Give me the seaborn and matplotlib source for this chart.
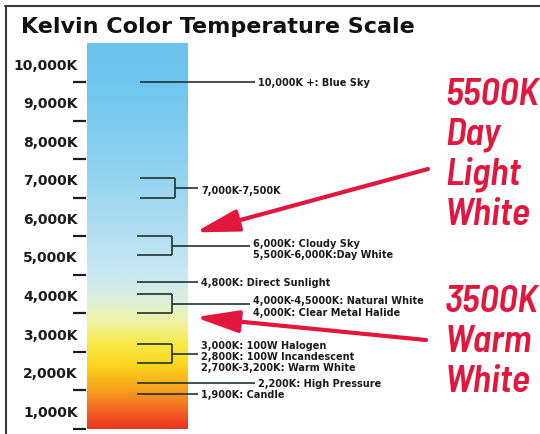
import numpy as np
import matplotlib
matplotlib.use("Agg")
import matplotlib.pyplot as plt
from matplotlib.colors import LinearSegmentedColormap
import seaborn as sns

# ---------------- data ----------------
tick_values = [1000, 2000, 3000, 4000, 5000, 6000, 7000, 8000, 9000, 10000]
tick_labels = ["1,000K", "2,000K", "3,000K", "4,000K", "5,000K",
               "6,000K", "7,000K", "8,000K", "9,000K", "10,000K"]

scale_low = 1000
scale_high = 11000

single_values = [10000, 4800, 2200, 1900]
single_labels = ["10,000K +: Blue Sky", "4,800K: Direct Sunlight",
                 "2,200K: High Pressure", "1,900K: Candle"]

bracket_low = [7000, 5500, 4000, 2700]
bracket_high = [7500, 6000, 4500, 3200]
bracket_labels = [
    ["7,000K-7,500K"],
    ["6,000K: Cloudy Sky", "5,500K-6,000K:Day White"],
    ["4,000K-4,5000K: Natural White", "4,000K: Clear Metal Halide"],
    ["3,000K: 100W Halogen", "2,800K: 100W Incandescent", "2,700K-3,200K: Warm White"],
]

callout_values = [6100, 3900]
callout_text = [["5500K", "Day", "Light", "White"], ["3500K", "Warm", "White"]]

grad_kelvin = [1000, 1500, 2000, 2600, 3200, 3800, 4300, 5000, 6500, 8000, 10000, 11000]
grad_colors = ["#ec3322", "#f26a22", "#f7a11c", "#fbd31b", "#f8ea48", "#eef3a8",
               "#dcefd8", "#c9e8f2", "#a9dbf1", "#8bd0f0", "#6ec6ee", "#6cc4ee"]

# ---------------- style ----------------
sns.set_theme(style="white")
plt.rcParams["font.family"] = ["DejaVu Sans"]
red_family = ["Barlow Semi Condensed", "Asap Condensed", "DejaVu Sans"]

W, H = 540, 435
fig = plt.figure(figsize=(W / 100, H / 100), dpi=100)
fig.patch.set_facecolor("white")

# pixel (from top) -> Kelvin mapping: 1000K at 430 px, 38.56 px per 1000K
px_per_k = 0.03856
y_bottom = 1000 - (H - 430) / px_per_k
y_top = 1000 + 430 / px_per_k

ax = fig.add_axes([0, 0, 1, 1])
ax.set_xlim(0, W)
ax.set_ylim(y_bottom, y_top)
ax.axis("off")

dark = "#1c1c1c"
line_c = "#1f3434"
red = "#e2173e"

# gradient bar
cmap = LinearSegmentedColormap.from_list(
    "kelvin",
    [((k - grad_kelvin[0]) / (grad_kelvin[-1] - grad_kelvin[0]), c)
     for k, c in zip(grad_kelvin, grad_colors)])
vals = np.linspace(0, 1, 500).reshape(-1, 1)
ax.imshow(vals, cmap=cmap, aspect="auto", origin="lower",
          extent=[87, 188, scale_low, scale_high - 15], interpolation="bilinear", zorder=1)

# ticks + labels
ax.hlines(tick_values, 73, 86, color=dark, lw=1.6, zorder=3)
for v, lab in zip(tick_values, tick_labels):
    ax.text(78, v + 450, lab, ha="right", va="center", fontsize=10,
            fontweight="bold", color=dark)

# single annotations
single_x0 = [140, 137, 137, 137]
single_x1 = [255, 198, 255, 198]
for v, lab, x0, x1 in zip(single_values, single_labels, single_x0, single_x1):
    ax.hlines(v, x0, x1, color=line_c, lw=1.2, zorder=3)
    ax.text(x1 + 3, v, lab, ha="left", va="center", fontsize=7,
            fontweight="bold", color=dark)

# bracket annotations
br_x0 = [140, 137, 137, 137]
br_xv = [175, 172, 172, 172]
br_x1 = [198, 250, 250, 198]
for lo, hi, labs, x0, xv, x1 in zip(bracket_low, bracket_high, bracket_labels, br_x0, br_xv, br_x1):
    mid = (lo + hi) / 2
    ax.hlines([lo, hi], x0, xv, color=line_c, lw=1.2, zorder=3)
    ax.vlines(xv, lo, hi, color=line_c, lw=1.2, zorder=3)
    ax.hlines(mid, xv, x1, color=line_c, lw=1.2, zorder=3)
    ax.text(x1 + 3, mid - 60, "\n".join(labs), ha="left", va="center", fontsize=7,
            fontweight="bold", color=dark, linespacing=1.15)

# red arrows
tails = [(428, 1000 + (430 - 170) / px_per_k), (426, 1000 + (430 - 341) / px_per_k)]
for v, (tx, ty) in zip(callout_values, tails):
    ax.annotate("", xy=(195, v), xytext=(tx, ty), xycoords="data",
                arrowprops=dict(arrowstyle="-|>,head_length=1.1,head_width=0.28",
                                mutation_scale=24, color=red, lw=3.0,
                                shrinkA=0, shrinkB=0), zorder=5)

# red callout text
baselines = [[105, 145, 185, 225], [312, 352, 392]]
for lines, bls in zip(callout_text, baselines):
    for t, b in zip(lines, bls):
        fig.text(445 / W, 1 - b / H, t, ha="left", va="baseline", fontsize=27.5,
                 fontweight=600, fontstyle="italic", color=red, family=red_family)

# title
fig.text(21 / W, 1 - 27 / H, "Kelvin Color Temperature Scale", ha="left", va="center",
         fontsize=16, fontweight="bold", color="#111111")

# frame (top and left)
fig.add_artist(plt.Line2D([5 / W, 1], [1 - 7 / H, 1 - 7 / H], color="#3a3a3a", lw=1.5))
fig.add_artist(plt.Line2D([5.5 / W, 5.5 / W], [0, 1 - 7 / H], color="#3a3a3a", lw=1.5))

fig.savefig("out.png", dpi=100, facecolor="white")
